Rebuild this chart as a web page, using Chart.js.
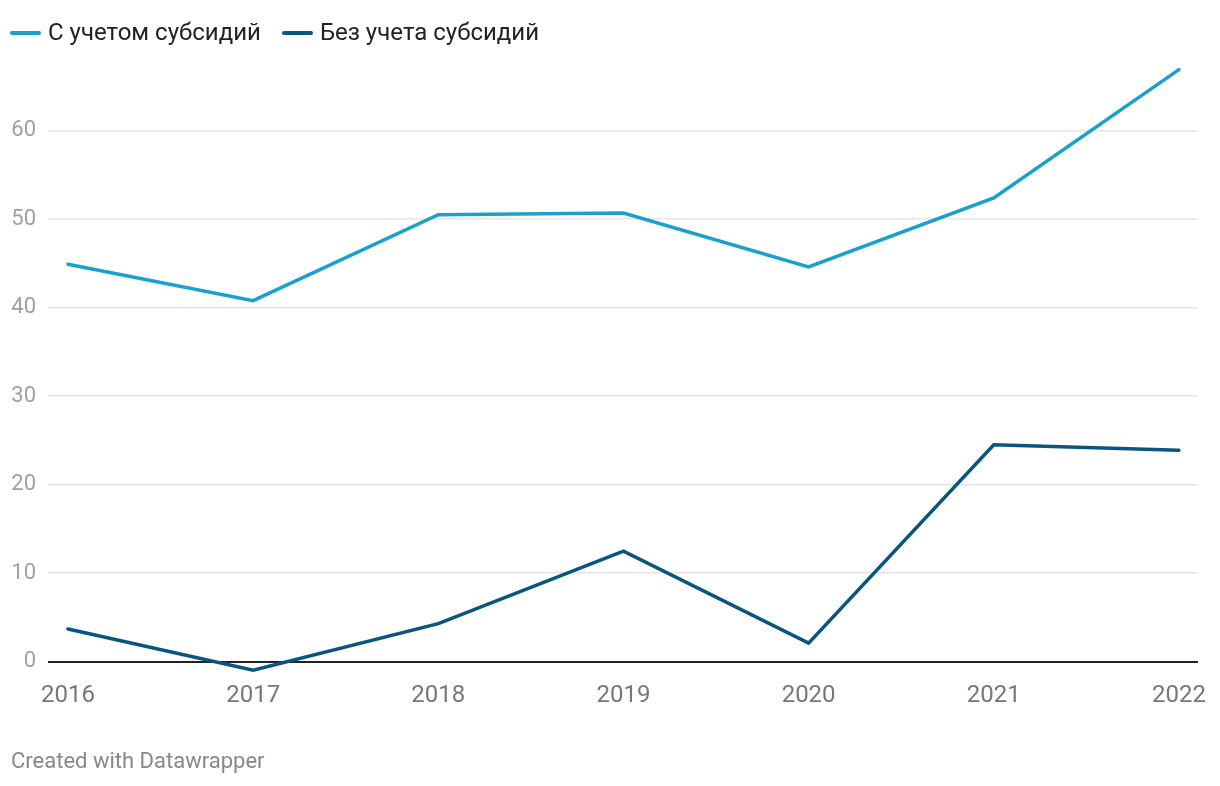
<!DOCTYPE html>
<html lang="ru">
<head>
<meta charset="utf-8">
<script src="https://cdn.jsdelivr.net/npm/chart.js@4"></script>
<style>
  html, body { margin: 0; padding: 0; background: #fff; }
  body { width: 1220px; height: 786px; position: relative; overflow: hidden; font-family: Roboto, sans-serif; }
  #wrap { position: absolute; left: 0; top: 0; width: 1220px; height: 786px; }
  .legend { position: absolute; top: 17px; left: 10px; display: flex; align-items: center; font-size: 24px; line-height: 30px; color: #222; }
  .legend .item { display: flex; align-items: center; margin-right: 21px; }
  .legend .sw { width: 31px; height: 4px; border-radius: 2px; margin-right: 7px; margin-top: 2px; }
  .credit { position: absolute; left: 11px; top: 748px; font-size: 22px; color: #888; }
</style>
</head>
<body>
<div id="wrap"><canvas id="chart"></canvas></div>
<div class="legend" id="legend"></div>
<div class="credit">Created with Datawrapper</div>
<script>
/* ---------- data ---------- */
const years = [2016, 2017, 2018, 2019, 2020, 2021, 2022];
const withSubsidies = [44.9, 40.8, 50.5, 50.7, 44.6, 52.4, 66.9];
const withoutSubsidies = [3.7, -0.95, 4.3, 12.5, 2.1, 24.5, 23.9];
const yTicks = [0, 10, 20, 30, 40, 50, 60];

const seriesNames = ['С учетом субсидий', 'Без учета субсидий'];
const seriesColors = ['#18a1cd', '#09557f'];

/* ---------- legend ---------- */
document.getElementById('legend').innerHTML = seriesNames.map((n, i) => `
  <div class="item"><span class="sw" style="background:${seriesColors[i]}"></span>${n}</div>
`).join('');

/* ---------- chart ---------- */
const toXY = vals => vals.map((v, i) => ({ x: years[i], y: v }));

new Chart(document.getElementById('chart'), {
  type: 'line',
  data: {
    datasets: [
      { label: seriesNames[0], data: toXY(withSubsidies), borderColor: seriesColors[0] },
      { label: seriesNames[1], data: toXY(withoutSubsidies), borderColor: seriesColors[1] }
    ]
  },
  options: {
    responsive: true,
    maintainAspectRatio: false,
    animation: false,
    layout: { padding: { top: 42.2, right: 22, left: 0, bottom: 0 } },
    elements: {
      line: { borderWidth: 3.5, tension: 0, borderCapStyle: 'round', fill: false },
      point: { radius: 0, hoverRadius: 0 }
    },
    plugins: { legend: { display: false }, tooltip: { enabled: false } },
    scales: {
      x: {
        type: 'linear',
        min: 2015.892,
        max: 2022.103,
        afterBuildTicks: s => { s.ticks = years.map(v => ({ value: v })); },
        afterFit: s => { s.height = 106.6; },
        grid: { display: false, drawTicks: false },
        border: { display: false },
        ticks: {
          padding: 2,
          color: '#777',
          font: { family: 'Roboto', size: 24 },
          callback: v => String(v),
          maxRotation: 0
        }
      },
      y: {
        min: -2,
        max: 70,
        afterBuildTicks: s => { s.ticks = yTicks.map(v => ({ value: v })); },
        afterFit: s => { s.width = 48; },
        grid: {
          drawTicks: false,
          color: c => c.tick && c.tick.value === 0 ? '#222' : '#e5e5e5',
          lineWidth: c => c.tick && c.tick.value === 0 ? 2 : 1.5
        },
        border: { display: false },
        ticks: {
          padding: 12,
          color: '#a0a0a0',
          font: { family: 'Roboto', size: 22 }
        }
      }
    }
  }
});
</script>
</body>
</html>
